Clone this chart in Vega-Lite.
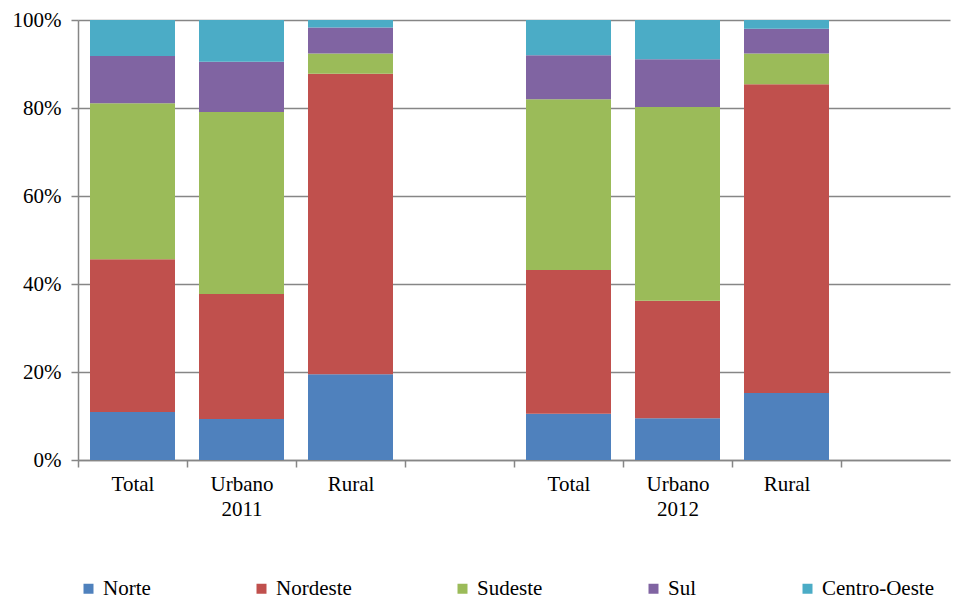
{
  "$schema": "https://vega.github.io/schema/vega-lite/v6.json",
  "autosize": "none",
  "padding": {"left": 78, "top": 20, "right": 10, "bottom": 141},
  "width": 872,
  "height": 440,
  "background": "white",
  "config": {
    "view": {"stroke": null},
    "style": {"guide-label": {"font": "Liberation Serif, Times New Roman, serif", "fontSize": 21, "fill": "black"}},
    "axis": {"labelFont": "Liberation Serif, Times New Roman, serif", "labelFontSize": 21, "labelColor": "black", "domainColor": "#868686", "tickColor": "#868686", "gridColor": "#868686", "domainWidth": 1.5, "tickWidth": 1.5, "gridWidth": 1.5, "tickSize": 7},
    "legend": {"labelFont": "Liberation Serif, Times New Roman, serif", "labelFontSize": 21, "labelColor": "black"}
  },
  "data": {
    "values": [
      {"cat": "Total 2011", "regiao": "Norte", "k": 1, "v": 10.9},
      {"cat": "Total 2011", "regiao": "Nordeste", "k": 2, "v": 34.7},
      {"cat": "Total 2011", "regiao": "Sudeste", "k": 3, "v": 35.5},
      {"cat": "Total 2011", "regiao": "Sul", "k": 4, "v": 10.7},
      {"cat": "Total 2011", "regiao": "Centro-Oeste", "k": 5, "v": 8.2},
      {"cat": "Urbano 2011", "regiao": "Norte", "k": 1, "v": 9.3},
      {"cat": "Urbano 2011", "regiao": "Nordeste", "k": 2, "v": 28.4},
      {"cat": "Urbano 2011", "regiao": "Sudeste", "k": 3, "v": 41.4},
      {"cat": "Urbano 2011", "regiao": "Sul", "k": 4, "v": 11.4},
      {"cat": "Urbano 2011", "regiao": "Centro-Oeste", "k": 5, "v": 9.5},
      {"cat": "Rural 2011", "regiao": "Norte", "k": 1, "v": 19.5},
      {"cat": "Rural 2011", "regiao": "Nordeste", "k": 2, "v": 68.3},
      {"cat": "Rural 2011", "regiao": "Sudeste", "k": 3, "v": 4.6},
      {"cat": "Rural 2011", "regiao": "Sul", "k": 4, "v": 5.9},
      {"cat": "Rural 2011", "regiao": "Centro-Oeste", "k": 5, "v": 1.7},
      {"cat": "Total 2012", "regiao": "Norte", "k": 1, "v": 10.5},
      {"cat": "Total 2012", "regiao": "Nordeste", "k": 2, "v": 32.7},
      {"cat": "Total 2012", "regiao": "Sudeste", "k": 3, "v": 38.8},
      {"cat": "Total 2012", "regiao": "Sul", "k": 4, "v": 10.0},
      {"cat": "Total 2012", "regiao": "Centro-Oeste", "k": 5, "v": 8.0},
      {"cat": "Urbano 2012", "regiao": "Norte", "k": 1, "v": 9.5},
      {"cat": "Urbano 2012", "regiao": "Nordeste", "k": 2, "v": 26.7},
      {"cat": "Urbano 2012", "regiao": "Sudeste", "k": 3, "v": 44.0},
      {"cat": "Urbano 2012", "regiao": "Sul", "k": 4, "v": 10.9},
      {"cat": "Urbano 2012", "regiao": "Centro-Oeste", "k": 5, "v": 8.9},
      {"cat": "Rural 2012", "regiao": "Norte", "k": 1, "v": 15.2},
      {"cat": "Rural 2012", "regiao": "Nordeste", "k": 2, "v": 70.2},
      {"cat": "Rural 2012", "regiao": "Sudeste", "k": 3, "v": 7.0},
      {"cat": "Rural 2012", "regiao": "Sul", "k": 4, "v": 5.6},
      {"cat": "Rural 2012", "regiao": "Centro-Oeste", "k": 5, "v": 2.0}
    ]
  },
  "mark": {"type": "bar", "width": 85},
  "encoding": {
    "x": {
      "field": "cat",
      "type": "nominal",
      "title": null,
      "scale": {"domain": ["Total 2011", "Urbano 2011", "Rural 2011", "gap1", "Total 2012", "Urbano 2012", "Rural 2012", "gap2"], "paddingInner": 0, "paddingOuter": 0},
      "axis": {
        "labelAngle": 0,
        "labelFont": "Liberation Serif, Times New Roman, serif",
        "labelFontSize": 21,
        "tickOffset": -54.5,
        "labelOffset": 54.5,
        "labelPadding": 6,
        "labelLineHeight": 25,
        "labelBaseline": "top",
        "labelExpr": "indexof(datum.value,'gap')==0 ? '' : (indexof(datum.value,'Urbano')==0 ? split(datum.value,' ') : split(datum.value,' ')[0])"
      }
    },
    "y": {
      "field": "v",
      "type": "quantitative",
      "stack": "normalize",
      "title": null,
      "axis": {"format": ".0%", "values": [0, 0.2, 0.4, 0.6, 0.8, 1], "grid": true, "labelPadding": 10, "labelFont": "Liberation Serif, Times New Roman, serif", "labelFontSize": 21}
    },
    "color": {
      "field": "regiao",
      "type": "nominal",
      "scale": {"domain": ["Norte", "Nordeste", "Sudeste", "Sul", "Centro-Oeste"], "range": ["#4F81BD", "#C0504D", "#9BBB59", "#8064A2", "#4BACC6"]},
      "legend": {"orient": "bottom", "title": null, "symbolType": "square", "symbolSize": 100, "labelFont": "Liberation Serif, Times New Roman, serif", "labelFontSize": 21, "labelOffset": 4, "columnPadding": 100, "offset": 59}
    },
    "order": {"field": "k", "type": "quantitative", "sort": "ascending"}
  }
}
